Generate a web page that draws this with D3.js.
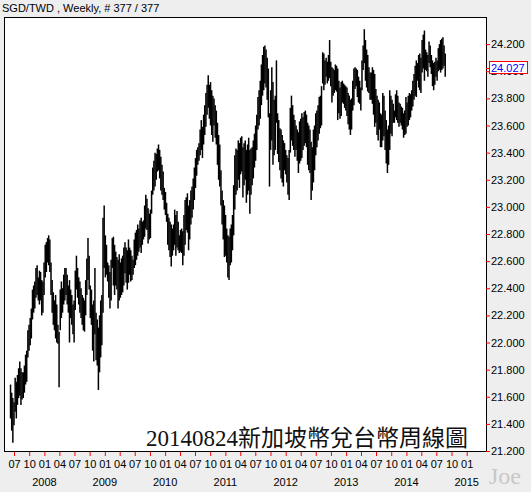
<!DOCTYPE html>
<html>
<head>
<meta charset="utf-8">
<script src="https://cdn.jsdelivr.net/npm/d3@7"></script>
<style>
  body { margin: 0; background: #eeeeee; }
  svg { display: block; font-family: "Liberation Sans", Arial, sans-serif; }
</style>
</head>
<body>
<div id="chart"></div>
<script>
// SGD/TWD weekly bars, 377 weeks ending 2014-08-24
var firstWeek = "2007-06-10";
var weekCount = 377;

var highs = [
  21.69, 21.63, 21.59, 21.56, 21.74, 21.71, 21.76, 21.81,
  21.86, 21.81, 21.78, 21.78, 21.83, 21.91, 21.94, 22.09, 22.13,
  22.18, 22.25, 22.39, 22.42, 22.45, 22.55, 22.57, 22.48, 22.53,
  22.52, 22.46, 22.45, 22.59, 22.72, 22.74, 22.77, 22.79,
  22.76, 22.59, 22.46, 22.37, 22.31, 22.35, 22.28, 22.13, 22.08,
  22.39, 22.45, 22.40, 22.50, 22.55, 22.55, 22.50, 22.42, 22.46,
  22.39, 22.35, 22.28, 22.31, 22.53, 22.64, 22.55, 22.48, 22.45,
  22.40, 22.35, 22.33, 22.31, 22.46, 22.62, 22.77, 22.64,
  22.42, 22.39, 22.28, 22.31, 22.55, 22.22, 22.17, 22.11, 22.20,
  22.31, 22.35, 22.92, 23.01, 22.79, 22.72, 22.59, 22.57, 22.52,
  22.61, 22.77, 22.78, 22.72, 22.67, 22.63, 22.61, 22.65,
  22.59, 22.62, 22.64, 22.70, 22.74, 22.70, 22.68, 22.76, 22.70,
  22.68, 22.64, 22.61, 22.76, 22.81, 22.83, 22.87, 22.84, 22.90,
  22.92, 22.89, 22.90, 23.01, 23.09, 23.06, 22.99, 22.95,
  22.98, 23.12, 23.29, 23.34, 23.40, 23.39, 23.43, 23.46, 23.42,
  23.37, 23.31, 23.26, 23.14, 23.11, 23.03, 22.95, 22.92, 22.89,
  22.87, 22.84, 22.87, 22.98, 22.94, 22.97, 22.89, 22.79, 22.83,
  22.84, 22.82, 22.94, 23.05, 23.07, 23.10, 23.01, 23.05,
  23.12, 23.15, 23.21, 23.29, 23.36, 23.42, 23.44, 23.47, 23.57,
  23.64, 23.59, 23.68, 23.75, 23.84, 23.90, 23.97, 23.90,
  23.92, 23.86, 23.82, 23.80, 23.75, 23.71, 23.62, 23.53, 23.46,
  23.27, 23.12, 23.05, 23.01, 22.94, 22.84, 22.79, 22.78, 22.84,
  22.87, 22.94, 23.16, 23.38, 23.43, 23.42, 23.49, 23.47,
  23.51, 23.52, 23.44, 23.47, 23.49, 23.42, 23.46, 23.51, 23.42,
  23.43, 23.44, 23.49, 23.54, 23.60, 23.68, 23.81, 23.86, 23.93,
  24.05, 24.12, 24.18, 24.19, 24.16, 24.10, 24.02, 23.69,
  23.86, 24.03, 23.92, 23.79, 23.82, 24.08, 23.69, 23.64, 23.58,
  23.57, 23.53, 23.49, 23.47, 23.42, 23.38, 23.36, 23.42, 23.73,
  23.82, 23.75, 23.68, 23.64, 23.60, 23.57, 23.55, 23.63,
  23.65, 23.69, 23.66, 23.70, 23.71, 23.68, 23.62, 23.60, 23.57,
  23.48, 23.44, 23.57, 23.60, 23.69, 23.71, 23.75, 23.81, 23.82,
  23.89, 24.14, 24.13, 24.08, 24.10, 24.07, 24.12, 24.23,
  24.07, 24.03, 24.02, 24.01, 24.05, 24.04, 24.02, 23.93, 23.88,
  23.92, 23.93, 23.91, 23.90, 23.89, 23.88, 23.84, 23.82, 23.79,
  23.80, 23.93, 24.02, 24.03, 24.02, 24.01, 23.96, 23.93,
  23.88, 24.08, 24.19, 24.31, 24.23, 24.16, 24.12, 24.03, 23.99,
  23.99, 24.03, 24.01, 23.98, 23.87, 23.82, 23.79, 23.77, 23.69,
  23.68, 23.84, 23.82, 23.71, 23.64, 23.57, 23.60, 23.86,
  23.82, 23.79, 23.76, 23.71, 23.83, 23.86, 23.82, 23.77, 23.76,
  23.74, 23.73, 23.69, 23.71, 23.81, 23.77, 23.82, 23.84, 23.83,
  23.86, 23.93, 23.98, 24.04, 24.08, 24.06, 24.12, 24.13,
  24.10, 24.23, 24.27, 24.30, 24.16, 24.14, 24.12, 24.22, 24.19,
  24.12, 24.08, 24.06, 24.07, 24.10, 24.08, 24.17, 24.20, 24.23,
  24.24, 24.25, 24.19, 24.13
];

var lows = [
  21.44, 21.35, 21.26, 21.39, 21.49, 21.44, 21.54, 21.59,
  21.61, 21.54, 21.58, 21.59, 21.63, 21.69, 21.71, 21.89, 21.94,
  21.98, 22.03, 22.17, 22.22, 22.25, 22.33, 22.35, 22.31, 22.28,
  22.31, 22.20, 22.22, 22.35, 22.48, 22.52, 22.59, 22.57,
  22.52, 22.35, 22.22, 22.13, 22.09, 22.03, 22.00, 21.99, 21.67,
  22.09, 22.18, 22.22, 22.28, 22.31, 22.35, 22.28, 22.22, 22.00,
  22.18, 22.13, 22.06, 22.00, 22.24, 22.39, 22.33, 22.28, 22.22,
  22.18, 22.13, 22.09, 22.08, 22.20, 22.35, 22.46, 22.39,
  22.18, 22.13, 21.94, 21.86, 22.06, 21.87, 21.83, 21.65, 21.78,
  21.89, 21.98, 22.22, 22.55, 22.48, 22.50, 22.45, 22.33, 22.25,
  22.31, 22.55, 22.42, 22.35, 22.42, 22.39, 22.25, 22.31,
  22.33, 22.35, 22.37, 22.42, 22.51, 22.44, 22.39, 22.44, 22.50,
  22.45, 22.46, 22.50, 22.55, 22.57, 22.61, 22.64, 22.67, 22.70,
  22.66, 22.72, 22.76, 22.78, 22.84, 22.83, 22.73, 22.76,
  22.77, 22.95, 23.09, 23.12, 23.15, 23.20, 23.26, 23.27, 23.21,
  23.12, 23.09, 23.05, 22.98, 22.94, 22.89, 22.72, 22.68, 22.63,
  22.56, 22.64, 22.68, 22.72, 22.64, 22.70, 22.68, 22.66, 22.67,
  22.66, 22.57, 22.64, 22.72, 22.83, 22.81, 22.68, 22.76,
  22.87, 22.92, 22.98, 23.05, 23.14, 23.23, 23.31, 23.34, 23.38,
  23.42, 23.36, 23.46, 23.53, 23.59, 23.68, 23.73, 23.65,
  23.60, 23.53, 23.48, 23.60, 23.51, 23.46, 23.31, 23.20, 23.15,
  23.01, 22.87, 22.76, 22.63, 22.64, 22.59, 22.48, 22.46, 22.57,
  22.59, 22.68, 22.79, 22.98, 23.09, 23.12, 23.20, 23.14,
  23.24, 23.26, 23.07, 23.16, 23.20, 23.03, 23.09, 23.12, 22.95,
  23.09, 23.16, 23.21, 23.29, 23.34, 23.42, 23.57, 23.60, 23.65,
  23.75, 23.82, 23.86, 23.91, 23.88, 23.79, 23.66, 23.15,
  23.42, 23.49, 23.31, 23.38, 23.42, 23.62, 23.39, 23.33, 23.27,
  23.21, 23.18, 23.15, 23.27, 23.24, 23.18, 23.09, 23.05, 23.40,
  23.49, 23.45, 23.42, 23.37, 23.42, 23.34, 23.25, 23.32,
  23.34, 23.36, 23.42, 23.45, 23.47, 23.44, 23.31, 23.27, 23.25,
  23.05, 23.12, 23.18, 23.27, 23.38, 23.44, 23.49, 23.54, 23.58,
  23.60, 23.91, 23.86, 23.90, 23.96, 23.91, 23.93, 23.95,
  23.89, 23.77, 23.82, 23.84, 23.86, 23.85, 23.64, 23.69, 23.65,
  23.67, 23.77, 23.76, 23.73, 23.71, 23.67, 23.61, 23.57, 23.53,
  23.57, 23.71, 23.75, 23.87, 23.89, 23.81, 23.77, 23.76,
  23.71, 23.86, 24.01, 24.06, 23.93, 23.88, 23.85, 23.84, 23.79,
  23.79, 23.76, 23.68, 23.59, 23.62, 23.53, 23.49, 23.57, 23.44,
  23.44, 23.49, 23.52, 23.42, 23.32, 23.25, 23.31, 23.42,
  23.54, 23.52, 23.62, 23.62, 23.66, 23.64, 23.62, 23.59, 23.62,
  23.60, 23.57, 23.51, 23.53, 23.54, 23.59, 23.60, 23.64, 23.66,
  23.71, 23.74, 23.79, 23.82, 23.81, 23.93, 23.88, 23.86,
  23.84, 23.99, 24.02, 23.93, 24.01, 24.00, 23.96, 24.06, 24.03,
  23.98, 23.89, 23.86, 23.90, 23.96, 23.93, 24.00, 24.01, 23.99,
  24.01, 24.02, 24.04, 23.96
];

var lastClose = 24.027;

var yTicks = [21.2, 21.4, 21.6, 21.8, 22.0, 22.2, 22.4, 22.6, 22.8,
              23.0, 23.2, 23.4, 23.6, 23.8, 24.0, 24.2];

var quarterTicks = ["2007-07", "2007-10", "2008-01", "2008-04", "2008-07", "2008-10",
  "2009-01", "2009-04", "2009-07", "2009-10", "2010-01", "2010-04", "2010-07", "2010-10",
  "2011-01", "2011-04", "2011-07", "2011-10", "2012-01", "2012-04", "2012-07", "2012-10",
  "2013-01", "2013-04", "2013-07", "2013-10", "2014-01", "2014-04", "2014-07", "2014-10",
  "2015-01"];

var yearTicks = ["2008", "2009", "2010", "2011", "2012", "2013", "2014", "2015"];

var titleText = "SGD/TWD , Weekly, # 377 / 377";
var captionText = "20140824新加坡幣兌台幣周線圖";

var svgWidth = 531, svgHeight = 492;
var plot = { left: 4, top: 17, right: 486, bottom: 451 };

var parseDay = d3.utcParse("%Y-%m-%d");
var parseMonth = d3.utcParse("%Y-%m");
var start = parseDay(firstWeek);
var weeks = d3.utcWeek.range(start, d3.utcWeek.offset(start, weekCount));

var data = weeks.map(function(d, i) {
  return { date: d, high: highs[i], low: lows[i] };
});

var x = d3.scaleUtc()
  .domain([parseMonth("2007-07"), parseMonth("2015-01")])
  .range([14, 466.7]);

var y = d3.scaleLinear()
  .domain([21.2, 24.4])
  .range([plot.bottom, plot.top]);

var svg = d3.select("#chart")
  .append("svg")
  .attr("width", svgWidth)
  .attr("height", svgHeight);

svg.append("rect")
  .attr("width", svgWidth)
  .attr("height", svgHeight)
  .attr("fill", "#eeeeee");

svg.append("text")
  .attr("x", 2)
  .attr("y", 12)
  .attr("font-size", 11)
  .attr("fill", "#000")
  .text(titleText);

svg.append("clipPath")
  .attr("id", "plotclip")
  .append("rect")
  .attr("x", plot.left + 1)
  .attr("y", plot.top + 1)
  .attr("width", plot.right - plot.left - 1)
  .attr("height", plot.bottom - plot.top);

svg.append("rect")
  .attr("x", plot.left + 0.5)
  .attr("y", plot.top + 0.5)
  .attr("width", plot.right - plot.left)
  .attr("height", plot.bottom - plot.top)
  .attr("fill", "#fff")
  .attr("stroke", "#000");

// caption inside the plot
svg.append("text")
  .attr("x", 468)
  .attr("y", 446)
  .attr("text-anchor", "end")
  .attr("font-size", 23)
  .attr("font-family", "'Liberation Serif', 'Noto Sans CJK TC', serif")
  .attr("fill", "#111")
  .text(captionText);

// high-low bars
svg.append("g")
  .attr("clip-path", "url(#plotclip)")
  .selectAll("line")
  .data(data)
  .enter().append("line")
  .attr("x1", function(d) { return x(d.date); })
  .attr("x2", function(d) { return x(d.date); })
  .attr("y1", function(d) { return y(d.high); })
  .attr("y2", function(d) { return y(d.low); })
  .attr("stroke", "#000")
  .attr("stroke-width", 1.5);

// right price axis
var rightAxis = d3.axisRight(y)
  .tickValues(yTicks)
  .tickFormat(d3.format(".3f"))
  .tickSize(4)
  .tickPadding(1);

var ra = svg.append("g")
  .attr("transform", "translate(" + plot.right + ",0)")
  .call(rightAxis);
ra.select(".domain").remove();
ra.selectAll(".tick line").attr("stroke", "#ff0000");
ra.selectAll(".tick text")
  .attr("font-size", 11)
  .attr("font-family", "'Liberation Sans', Arial, sans-serif")
  .attr("fill", "#000");

// bottom time axis
var bottomAxis = d3.axisBottom(x)
  .tickValues(quarterTicks.map(parseMonth))
  .tickFormat(d3.utcFormat("%m"))
  .tickSize(4)
  .tickPadding(4);

var ba = svg.append("g")
  .attr("transform", "translate(0," + (plot.bottom + 1) + ")")
  .call(bottomAxis);
ba.select(".domain").remove();
ba.selectAll(".tick line").attr("stroke", "#ff0000");
ba.selectAll(".tick text")
  .attr("font-size", 11)
  .attr("font-family", "'Liberation Sans', Arial, sans-serif")
  .attr("fill", "#000");

svg.append("g")
  .selectAll("text")
  .data(yearTicks)
  .enter().append("text")
  .attr("x", function(d) { return x(parseMonth(d + "-01")); })
  .attr("y", 486)
  .attr("text-anchor", "middle")
  .attr("font-size", 11)
  .attr("fill", "#000")
  .text(function(d) { return d; });

// last close marker, drawn over the 24.000 label as in the original
var cy = Math.round(y(lastClose));
svg.append("line")
  .attr("x1", plot.right).attr("x2", plot.right + 4)
  .attr("y1", cy + 0.5).attr("y2", cy + 0.5)
  .attr("stroke", "#ff0000");
svg.append("rect")
  .attr("x", 489.5)
  .attr("y", cy - 6.5)
  .attr("width", 38)
  .attr("height", 12)
  .attr("fill", "#fff")
  .attr("stroke", "#ff0000");
svg.append("text")
  .attr("x", 491)
  .attr("y", cy + 4)
  .attr("font-size", 11)
  .attr("fill", "#0000ff")
  .text(d3.format(".3f")(lastClose));

// watermark
svg.append("text")
  .attr("x", 489)
  .attr("y", 484)
  .attr("font-size", 24)
  .attr("font-family", "'Liberation Serif', serif")
  .attr("fill", "#c8c8c8")
  .text("Joe");
</script>
</body>
</html>
